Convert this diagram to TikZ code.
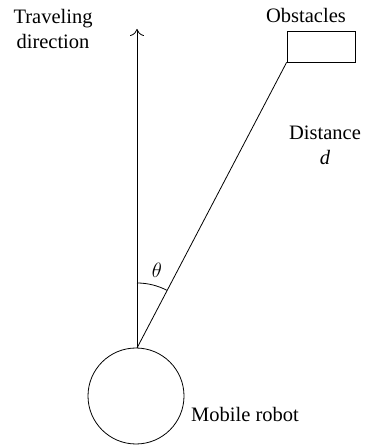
\documentclass[tikz,border=0pt]{standalone}
\usepackage{fontspec}
\setmainfont{Liberation Serif}
\usetikzlibrary{arrows.meta}
\begin{document}
\begin{tikzpicture}[x=1pt,y=1pt,
  lbl/.style={font=\fontsize{20.5}{25}\selectfont, inner sep=0pt, align=center},
  ln/.style={line width=0.8pt}]
\useasboundingbox (0,0) rectangle (368,447);
\node[circle, draw, ln, minimum size=96pt, inner sep=0pt] (robot) at (136,51) {};
\coordinate (tip) at (137,418);
\node[draw, ln, minimum width=68pt, minimum height=31pt, inner sep=0pt] (box) at (321,400.5) {};
\coordinate (top) at (137,99);
\draw[ln, -{To[length=7pt,width=14pt]}] (top) -- (tip);
\draw[ln] (top) -- (box.south west);
\draw[ln] ([shift={(90:65)}]top) arc[start angle=90, end angle=62.5, radius=65];
\node[lbl] (theta) at (157,177) {$\theta$};
\node[lbl] (trav) at (53,418) {Traveling\\direction};
\node[lbl] (obs) at (306,432) {Obstacles};
\node[lbl] (dist) at (325,302) {Distance\\\textit{d}};
\node[lbl] (mob) at (245,33) {Mobile robot};
\end{tikzpicture}
\end{document}
